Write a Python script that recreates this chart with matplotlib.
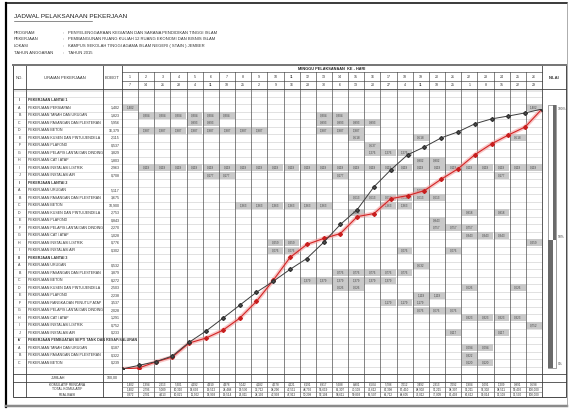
import matplotlib
matplotlib.use("Agg")
import matplotlib.pyplot as plt
from matplotlib.patches import Rectangle

plt.rcParams['font.family'] = ['Liberation Sans Narrow', 'Liberation Sans', 'DejaVu Sans']

# ---------------- data ----------------
title = "JADWAL PELAKSANAAN PEKERJAAN"
info_labels = ["PROGRAM", "PEKERJAAN", "LOKASI", "TAHUN ANGGARAN"]
info_values = ["PENYELENGGARAAN KEGIATAN DAN SARANA PENDIDIKAN TINGGI ISLAM",
               "PEMBANGUNAN RUANG KULIAH 12 RUANG EKONOMI DAN BISNIS ISLAM",
               "KAMPUS SEKOLAH TINGGI AGAMA ISLAM NEGERI ( STAIN ) JEMBER",
               "TAHUN 2015"]

task_no = ["", "I", "A", "B", "C", "D", "E", "F", "G", "H", "I", "J",
           "II", "A", "B", "C", "D", "E", "F", "G", "H", "I",
           "III", "A", "B", "C", "D", "E", "F", "G", "H", "I", "J",
           "IV", "A", "B", "C", ""]
task_name = ["", "PEKERJAAN LANTAI 1", "PEKERJAAN PERSIAPAN", "PEKERJAAN TANAH DAN URUGAN",
             "PEKERJAAN PASANGAN DAN PLESTERAN", "PEKERJAAN BETON",
             "PEKERJAAN KUSEN DAN PINTU/JENDELA", "PEKERJAAN PLAFOND",
             "PEKERJAAN PELAPIS LANTAI DAN DINDING", "PEKERJAAN CAT / ATAP",
             "PEKERJAAN INSTALASI LISTRIK", "PEKERJAAN INSTALASI AIR",
             "PEKERJAAN LANTAI 2", "PEKERJAAN URUGAN", "PEKERJAAN PASANGAN DAN PLESTERAN",
             "PEKERJAAN BETON", "PEKERJAAN KUSEN DAN PINTU/JENDELA", "PEKERJAAN PLAFOND",
             "PEKERJAAN PELAPIS LANTAI DAN DINDING", "PEKERJAAN CAT / ATAP",
             "PEKERJAAN INSTALASI LISTRIK", "PEKERJAAN INSTALASI AIR",
             "PEKERJAAN LANTAI 3", "PEKERJAAN URUGAN", "PEKERJAAN PASANGAN DAN PLESTERAN",
             "PEKERJAAN BETON", "PEKERJAAN KUSEN DAN PINTU/JENDELA", "PEKERJAAN PLAFOND",
             "PEKERJAAN RANGKA DAN PENUTUP ATAP", "PEKERJAAN PELAPIS LANTAI DAN DINDING",
             "PEKERJAAN CAT / ATAP", "PEKERJAAN INSTALASI LISTRIK", "PEKERJAAN INSTALASI AIR",
             "PEKERJAAN PEMBUATAN SEPTI TANK DAN RESAP/SALURAN", "PEKERJAAN TANAH DAN URUGAN",
             "PEKERJAAN PASANGAN DAN PLESTERAN", "PEKERJAAN BETON", ""]
task_bobot = ["", "", "1,402", "1,823", "5,956", "16,379", "2,115", "0,537", "3,829", "1,803",
              "2,963", "0,708", "", "5,117", "3,675", "10,900", "2,753", "0,843", "2,270",
              "1,028", "0,776", "0,302", "", "0,532", "3,879", "8,272", "2,503", "2,238",
              "3,537", "2,028", "1,291", "0,752", "0,233", "", "0,187", "0,322", "0,239", ""]
header_rows = [1, 12, 22, 33]

# active weeks (1-based) for each task row
active_weeks = [[], [], [1, 26], [2, 3, 4, 5, 6, 7, 13, 14], [5, 6, 13, 14, 15, 16],
                [2, 3, 4, 5, 6, 7, 8, 9, 13, 14, 15], [15, 19, 25], [16], [16, 17, 18],
                [19, 20], list(range(2, 27)), [6, 7, 14, 24],
                [], [19], [15, 16, 17, 18, 19, 20], [8, 9, 10, 11, 12, 13, 17, 18],
                [15, 22, 24], [20], [20, 21, 22], [22, 23, 24], [10, 11, 26], [10, 11, 18, 21],
                [], [19], [14, 15, 16, 17, 18], [12, 13, 14, 15, 16, 17], [14, 15, 22, 25],
                [19, 20], [17, 18, 19], [19, 20, 21], [22, 23, 24, 25], [26], [21, 24],
                [], [22, 23], [22], [22, 23], []]
cell_value = ["", "", "1,402", "0,304", "0,993", "1,987", "0,518", "0,537", "1,276",
              "0,902", "0,119", "0,177", "", "1,027", "0,613", "1,363", "0,918", "0,843",
              "0,757", "0,343", "0,259", "0,076", "", "0,532", "0,776", "1,379", "0,626",
              "1,119", "1,179", "0,676", "0,323", "0,752", "0,117", "", "0,094", "0,322",
              "0,120", ""]

weeks = list(range(1, 27))
week_dates = ["7", "14", "21", "28", "4", "11", "18", "25", "2", "9", "16", "23", "30",
              "6", "13", "20", "27", "4", "11", "18", "25", "1", "8", "15", "22", "29"]

weekly_plan = [1.402, 1.394, 2.213, 5.301, 4.292, 4.910, 4.976, 5.042, 4.182, 4.578, 4.221,
               6.191, 6.917, 5.688, 8.801, 6.504, 5.786, 3.012, 3.492, 2.313, 3.092, 1.904,
               1.091, 1.209, 0.891, 0.598]
cum_plan_tbl = [1.402, 2.796, 5.009, 10.310, 14.602, 19.512, 24.488, 29.530, 33.712, 38.290,
                42.511, 48.702, 55.619, 61.307, 70.108, 76.612, 82.398, 85.410, 88.902,
                91.215, 94.307, 96.211, 97.302, 98.511, 99.402, 100.000]
realisasi_tbl = [0.372, 2.701, 4.613, 10.021, 11.902, 14.903, 19.514, 26.011, 34.102, 42.903,
                 47.912, 50.208, 52.104, 58.611, 59.803, 65.507, 66.712, 68.605, 73.012,
                 77.009, 82.403, 86.612, 90.014, 93.108, 96.500, 100.000]

# S-curve points (week index 0..25, cumulative %)
curve_x = list(range(0, 26))
plan_curve = [0, 1.4, 2.8, 5.0, 10.3, 14.6, 19.5, 24.5, 29.5, 33.7, 38.3, 42.5, 48.7, 55.6,
              61.3, 70.1, 76.6, 82.4, 85.4, 88.9, 91.2, 94.3, 96.2, 97.3, 98.5, 100.0]
actual_curve = [0, 0.4, 2.7, 4.6, 10.0, 11.9, 14.9, 19.5, 26.0, 34.1, 42.9, 47.9, 50.2, 52.1,
                58.6, 59.8, 65.5, 66.7, 68.6, 73.0, 77.0, 82.4, 86.6, 90.0, 93.1, 100.0]

# ---------------- layout ----------------
W, H = 570, 418
fig = plt.figure(figsize=(5.7, 4.18), dpi=100)
ax = fig.add_axes([0, 0, 1, 1])
ax.set_xlim(0, W)
ax.set_ylim(H, 0)
ax.axis('off')

X_L, X_NO, X_UR, X_BB, X_WE, X_R = 13, 26, 103, 122, 542, 566
NW = len(weeks)
CW = (X_WE - X_BB) / NW
Y_TOP, Y_H1, Y_H2, Y_HB = 65, 72, 81, 89
RH = 7.5
Y_BE = Y_HB + RH * len(task_no)
Y_J = Y_BE + 8
SR = 5
Y_END = Y_J + 3 * SR

DK = '#3a3a3a'
LG = '#c4c4c4'
GRAY = '#c9c9c9'
fs = 2.6

def px(v):
    return v * 0.72

# frame
ax.plot([6, 6], [3, 407], color='black', lw=px(2.2))
ax.plot([6, 567], [3, 3], color='black', lw=px(1.5))
ax.plot([6, 567], [406, 406], color='#8a8a8a', lw=px(2.5))
ax.plot([567, 567], [3, 406], color='#9a9a9a', lw=px(0.8))

# title and info
ax.text(14, 17, title, fontsize=4.6, color='#222', va='center', ha='left')
ax.plot([14, 92], [20.5, 20.5], color='#444', lw=px(0.6))
for i, (lab, val) in enumerate(zip(info_labels, info_values)):
    y = 33 + i * 6.5
    ax.text(14, y, lab, fontsize=3.0, color='#333', va='center')
    ax.text(63, y, ":", fontsize=3.0, color='#333', va='center')
    ax.text(68, y, val, fontsize=3.0, color='#333', va='center')

# gray cells
for r, wk_list in enumerate(active_weeks):
    y0 = Y_HB + r * RH
    for w in wk_list:
        x0 = X_BB + (w - 1) * CW
        ax.add_patch(Rectangle((x0 + 0.3, y0 + 0.4), CW - 0.6, RH - 0.8,
                               facecolor=GRAY, edgecolor='none', zorder=1))
        ax.text(x0 + CW / 2, y0 + RH / 2, cell_value[r], fontsize=2.2, color='#444',
                ha='center', va='center', zorder=2)

# body row lines
for r in range(1, len(task_no)):
    y = Y_HB + r * RH
    ax.plot([X_L, X_WE], [y, y], color=LG, lw=px(0.5), zorder=0.5)

# vertical lines
for x in [X_NO, X_UR, X_BB]:
    ax.plot([x, x], [Y_TOP, Y_END], color=DK, lw=px(0.8), zorder=3)
for k in range(1, NW):
    x = X_BB + k * CW
    ax.plot([x, x], [Y_H1, Y_END], color='#555', lw=px(0.7), zorder=3)
ax.plot([X_WE, X_WE], [Y_TOP, Y_END], color=DK, lw=px(0.8), zorder=3)

# horizontal structure lines
ax.add_patch(Rectangle((X_L, Y_TOP), X_R - X_L, Y_END - Y_TOP, facecolor='none',
                       edgecolor=DK, lw=px(0.9), zorder=3))
ax.plot([X_L, X_R], [Y_TOP, Y_TOP], color='#777', lw=px(2.0), zorder=3)
ax.plot([X_BB, X_WE], [Y_H1, Y_H1], color=DK, lw=px(0.6), zorder=3)
ax.plot([X_BB, X_WE], [Y_H2, Y_H2], color=DK, lw=px(0.6), zorder=3)
ax.plot([X_L, X_R], [Y_HB, Y_HB], color=DK, lw=px(0.8), zorder=3)
ax.plot([X_L, X_WE], [Y_HB + 1.5, Y_HB + 1.5], color='#888', lw=px(0.4), zorder=3)
ax.plot([X_L, X_R], [Y_BE, Y_BE], color=DK, lw=px(0.8), zorder=3)
ax.plot([X_L, X_R], [Y_J, Y_J], color=DK, lw=px(0.8), zorder=3)
for i in range(1, 3):
    ax.plot([X_BB, X_WE], [Y_J + i * SR, Y_J + i * SR], color='#666', lw=px(0.5), zorder=3)

# header texts
ax.text((X_L + X_NO) / 2, 78, "NO.", fontsize=3.0, ha='center', va='center', color='#333')
ax.text((X_NO + X_UR) / 2, 78, "URAIAN PEKERJAAN", fontsize=3.0, ha='center', va='center',
        color='#333')
ax.text((X_UR + X_BB) / 2, 78, "BOBOT", fontsize=3.0, ha='center', va='center', color='#333')
ax.text((X_BB + X_WE) / 2, 68.5, "MINGGU PELAKSANAAN  KE - HARI", fontsize=2.8, ha='center',
        va='center', color='#222', fontweight='bold')
ax.text((X_WE + X_R) / 2, 78, "NILAI", fontsize=3.0, ha='center', va='center', color='#333',
        fontweight='bold')
for k, (w, d) in enumerate(zip(weeks, week_dates)):
    xc = X_BB + (k + 0.5) * CW
    ax.text(xc, (Y_H1 + Y_H2) / 2, str(w), fontsize=2.6, ha='center', va='center', color='#333')
    ax.text(xc, (Y_H2 + Y_HB) / 2, d, fontsize=2.6, ha='center', va='center', color='#333')

# task texts
for r, (no, name, bb) in enumerate(zip(task_no, task_name, task_bobot)):
    yc = Y_HB + (r + 0.5) * RH
    bold = 'bold' if r in header_rows else 'normal'
    ax.text((X_L + X_NO) / 2, yc, no, fontsize=fs, ha='center', va='center', color='#333',
            fontweight=bold)
    ax.text(X_NO + 2, yc, name, fontsize=fs, ha='left', va='center', color='#333',
            fontweight=bold)
    ax.text(X_BB - 2, yc, bb, fontsize=fs, ha='right', va='center', color='#333')

# summary
ax.text((X_L + X_UR) / 2, (Y_BE + Y_J) / 2, "JUMLAH", fontsize=fs, ha='center', va='center',
        color='#333')
ax.text((X_UR + X_BB) / 2, (Y_BE + Y_J) / 2, "100,00", fontsize=fs, ha='center', va='center',
        color='#333')
sum_labels = ["KOMULATIF RENCANA", "TOTAL KOMULATIF", "REALISASI"]
for i, (lab, vals) in enumerate(zip(sum_labels, [weekly_plan, cum_plan_tbl, realisasi_tbl])):
    yc = Y_J + (i + 0.5) * SR
    ax.text((X_L + X_BB) / 2, yc, lab, fontsize=2.4, ha='center', va='center', color='#333')
    for k, v in enumerate(vals):
        xc = X_BB + (k + 0.5) * CW
        ax.text(xc, yc, f"{v:.3f}".replace('.', ','), fontsize=2.2, ha='center', va='center',
                color='#333')

# progress bar in NILAI column
ax.add_patch(Rectangle((548, 105), 8, 263, facecolor='white', edgecolor='#666', lw=px(0.6),
                       zorder=2))
ax.add_patch(Rectangle((552.5, 105), 3.5, 135, facecolor='#6a6a6a', edgecolor='none', zorder=2))
ax.add_patch(Rectangle((548, 240), 5, 128, facecolor='#6a6a6a', edgecolor='none', zorder=2))
ax.text(558, 109, "100%", fontsize=2.4, ha='left', va='center', color='#444')
ax.text(558, 237, "50%", fontsize=2.4, ha='left', va='center', color='#444')
ax.text(558, 364, "0%", fontsize=2.4, ha='left', va='center', color='#444')

# ---------------- S-curves ----------------
cax = fig.add_axes([X_BB / W, 1 - 369 / H, (X_WE - X_BB) / W, (369 - 109) / H])
cax.set_xlim(0, 25)
cax.set_ylim(0, 100)
cax.axis('off')
cax.patch.set_alpha(0)
cax.plot(curve_x, actual_curve, color='#f29a9a', lw=3.0, alpha=0.55, solid_capstyle='round',
         zorder=4)
cax.plot(curve_x, actual_curve, color='#d42424', lw=0.8, marker='D', ms=2.0, mfc='#c81e1e',
         mec='#c81e1e', zorder=5)
cax.plot(curve_x, plan_curve, color='#3c3c3c', lw=0.7, marker='D', ms=2.0, mfc='#555',
         mec='#333', zorder=6)

fig.savefig("out.png", dpi=100)
